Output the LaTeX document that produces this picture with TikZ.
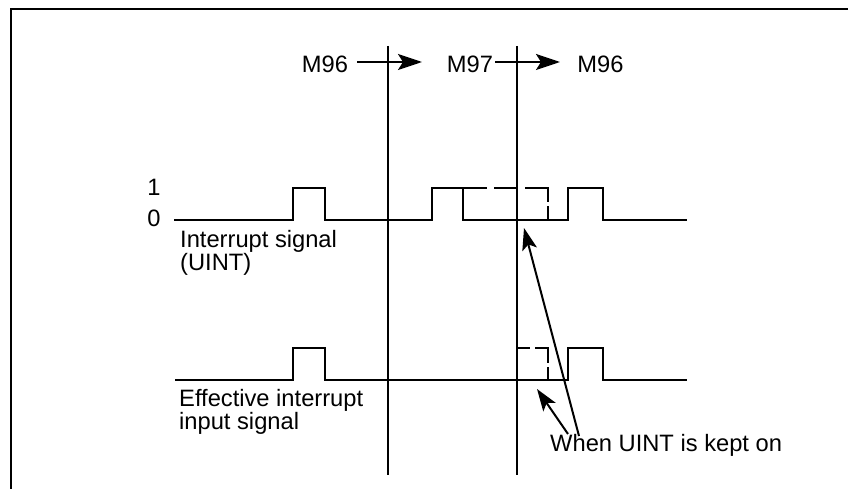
\documentclass[tikz,border=0pt]{standalone}
\usepackage{fontspec}
\setmainfont{Liberation Sans}
\usetikzlibrary{arrows.meta}
\begin{document}
\begin{tikzpicture}[x=1pt,y=-1pt,
  lbl/.style={inner sep=0pt,font=\fontsize{23.7}{24}\selectfont},
  sig/.style={line width=2.7pt,line cap=rect,line join=miter},
  vline/.style={line width=2.3pt},
  frame/.style={line width=2.7pt},
  arr/.style={line width=2.3pt,-{Stealth[length=24pt,width=16pt,inset=5pt]}},
  arrs/.style={line width=2pt,-{Stealth[length=22pt,width=15pt,inset=5pt]}}]
\useasboundingbox (0,0) rectangle (848,489);
% frame
\draw[frame] (11,489) -- (11,9) -- (848,9);
% vertical boundaries
\coordinate (v1t) at (388,46); \coordinate (v1b) at (388,475);
\coordinate (v2t) at (517,46); \coordinate (v2b) at (517,475);
\draw[vline] (v1t) -- (v1b);
\draw[vline] (v2t) -- (v2b);
% top labels
\node[lbl,anchor=base] (m96a) at (325,73) {M96};
\node[lbl,anchor=base] (m97) at (470,73) {M97};
\node[lbl,anchor=base] (m96b) at (600.5,73) {M96};
\coordinate (a1s) at (357,62); \coordinate (a1e) at (422,62);
\coordinate (a2s) at (495,62); \coordinate (a2e) at (560,62);
\draw[arr] (a1s) -- (a1e);
\draw[arr] (a2s) -- (a2e);
% level labels
\node[lbl,anchor=base] (one) at (154,196) {1};
\node[lbl,anchor=base] (zero) at (154,226) {0};
% interrupt signal (UINT)
\draw[sig] (175,220) -- (293,220) -- (293,188) -- (325,188) -- (325,220)
  -- (432,220) -- (432,188) -- (463,188) -- (463,220) -- (568,220)
  -- (568,188) -- (603,188) -- (603,220) -- (686,220);
\draw[sig,line cap=butt,dash pattern=on 24pt off 7pt on 23pt off 8pt on 37pt off 4pt on 14pt]
  (463,188) -- (548,188) -- (548,220);
\node[lbl,anchor=base west] (uint1) at (180,247) {Interrupt signal};
\node[lbl,anchor=base west] (uint2) at (180,270) {(UINT)};
% effective interrupt input signal
\draw[sig] (176,380) -- (293,380) -- (293,348) -- (325,348) -- (325,380)
  -- (568,380) -- (568,348) -- (603,348) -- (603,380) -- (686,380);
\draw[sig,line cap=butt,dash pattern=on 13pt off 5pt on 28pt off 4pt on 13pt]
  (517,348) -- (548,348) -- (548,380);
\node[lbl,anchor=base west] (eff1) at (179,406) {Effective interrupt};
\node[lbl,anchor=base west] (eff2) at (179,429) {input signal};
% note
\node[lbl,anchor=base west] (when) at (550,451) {When UINT is kept on};
\coordinate (l1s) at (579,436); \coordinate (l1e) at (524,228);
\coordinate (l2s) at (568,434); \coordinate (l2e) at (537,389);
\draw[arrs] (l1s) -- (l1e);
\draw[arrs] (l2s) -- (l2e);
\end{tikzpicture}
\end{document}
